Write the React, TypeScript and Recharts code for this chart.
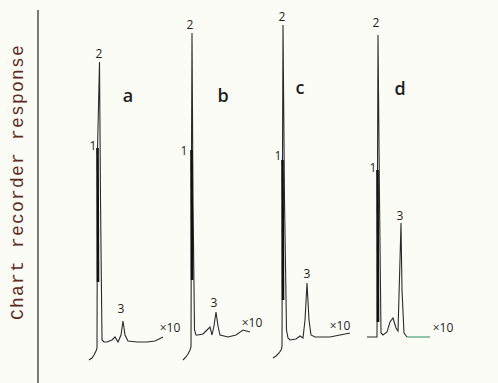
import { ComposedChart, Line, XAxis, YAxis, ReferenceDot } from "recharts"

type Pt = { x: number; y: number }

// chart-paper distance (x) vs recorder response (y)
const traceA: Pt[] = [
  { x: 51, y: 23 }, { x: 54, y: 25 }, { x: 56, y: 28 }, { x: 58, y: 32 }, { x: 59, y: 35 },
  { x: 59.5, y: 233 }, { x: 61.5, y: 321 }, { x: 62.5, y: 183 }, { x: 64, y: 43 },
  { x: 66, y: 41 }, { x: 69, y: 41 }, { x: 74, y: 43 }, { x: 77, y: 46 }, { x: 80, y: 41 },
  { x: 83, y: 48 }, { x: 85, y: 62 }, { x: 87, y: 48 }, { x: 90, y: 42 }, { x: 99, y: 41 },
  { x: 109, y: 41 }, { x: 117, y: 42 }, { x: 125, y: 46 },
]
const traceB: Pt[] = [
  { x: 145, y: 23 }, { x: 148, y: 26 }, { x: 150, y: 29 }, { x: 152, y: 33 }, { x: 153, y: 36 },
  { x: 153.5, y: 233 }, { x: 154, y: 350 }, { x: 155, y: 183 }, { x: 156.5, y: 53 },
  { x: 158, y: 48 }, { x: 160, y: 48 }, { x: 165, y: 49 }, { x: 169, y: 53 }, { x: 172, y: 56 },
  { x: 174, y: 48 }, { x: 176, y: 57 }, { x: 178, y: 71 }, { x: 180, y: 57 }, { x: 182, y: 48 },
  { x: 190, y: 46 }, { x: 198, y: 48 }, { x: 205, y: 53 }, { x: 212, y: 51 },
]
const traceC: Pt[] = [
  { x: 235, y: 25 }, { x: 238, y: 27 }, { x: 241, y: 30 }, { x: 243, y: 33 }, { x: 244, y: 36 },
  { x: 244.5, y: 223 }, { x: 245, y: 358 }, { x: 246.5, y: 183 }, { x: 248.5, y: 53 },
  { x: 250, y: 45 }, { x: 252, y: 43 }, { x: 258, y: 44 }, { x: 262, y: 47 }, { x: 265, y: 45 },
  { x: 267, y: 63 }, { x: 269, y: 100 }, { x: 271, y: 63 }, { x: 273, y: 48 }, { x: 277, y: 46 },
  { x: 292, y: 46 }, { x: 302, y: 48 }, { x: 312, y: 50 },
]
const traceD: Pt[] = [
  { x: 329, y: 46 }, { x: 339, y: 46 }, { x: 339.5, y: 213 }, { x: 340, y: 348 },
  { x: 341.5, y: 183 }, { x: 343, y: 50 }, { x: 345, y: 48 }, { x: 349, y: 51 }, { x: 352, y: 61 },
  { x: 355, y: 65 }, { x: 358, y: 55 }, { x: 360, y: 52 }, { x: 362, y: 123 },
  { x: 363, y: 160 }, { x: 364, y: 93 }, { x: 366, y: 50 }, { x: 369, y: 46 },
]
const traceDTail: Pt[] = [{ x: 369, y: 46 }, { x: 382, y: 46 }, { x: 392, y: 46 }]

// peak 1 shoulders (dark overlapping pen strokes)
const shoulderA: Pt[] = [{ x: 59.5, y: 235 }, { x: 60, y: 101 }]
const shoulderB: Pt[] = [{ x: 153.5, y: 233 }, { x: 154, y: 103 }]
const shoulderC: Pt[] = [{ x: 244.5, y: 223 }, { x: 245, y: 83 }]
const shoulderD: Pt[] = [{ x: 339.5, y: 213 }, { x: 340, y: 61 }]

const peakLabels = [
  { x: 61, y: 330, t: "2" }, { x: 152, y: 359, t: "2" }, { x: 244, y: 367, t: "2" }, { x: 338, y: 361, t: "2" },
  { x: 55, y: 238, t: "1" }, { x: 146, y: 233, t: "1" }, { x: 240, y: 228, t: "1" }, { x: 335, y: 216, t: "1" },
  { x: 83, y: 75, t: "3" }, { x: 176, y: 81, t: "3" }, { x: 269, y: 110, t: "3" }, { x: 362, y: 168, t: "3" },
]
const panelLetters = [
  { x: 90, y: 288, t: "a" }, { x: 185, y: 288, t: "b" }, { x: 262, y: 296, t: "c" }, { x: 362, y: 295, t: "d" },
]
const gainLabels = [
  { x: 132, y: 56, t: "×10" }, { x: 214, y: 61, t: "×10" }, { x: 302, y: 58, t: "×10" }, { x: 405, y: 56, t: "×10" },
]

const ink = "#2a2a2a"
const sans = "'Open Sans', 'DejaVu Sans', sans-serif"

function textShape(t: string, size: number, weight = 400) {
  return (p: any) => (
    <text x={p.cx} y={p.cy} textAnchor="middle" dominantBaseline="central"
      fontSize={size} fontWeight={weight} fontFamily={sans} fill="#1e1e1e">{t}</text>
  )
}

function YLabel(props: any) {
  const vb = props.viewBox
  const cx = 18
  const cy = vb.y + 172
  return (
    <text x={cx} y={cy} transform={`rotate(-90 ${cx} ${cy})`} textAnchor="middle"
      dominantBaseline="central" fontSize={18} letterSpacing={1.2}
      fontFamily="'Liberation Mono', 'DejaVu Sans Mono', monospace" fill="#5e2a22">
      Chart recorder response
    </text>
  )
}

export default function App() {
  const traces = [traceA, traceB, traceC, traceD]
  const shoulders = [shoulderA, shoulderB, shoulderC, shoulderD]
  return (
    <div style={{ position: "absolute", left: 0, top: 0, width: 498, height: 383, background: "#fcfcf6" }}>
      <ComposedChart width={498} height={383} margin={{ top: 10, right: 0, bottom: 0, left: 0 }}>
        <XAxis type="number" dataKey="x" domain={[0, 460]} hide allowDataOverflow />
        <YAxis type="number" domain={[0, 373]} width={38} tick={false} tickLine={false}
          axisLine={{ stroke: "#333", strokeWidth: 1.3 }} label={<YLabel />} allowDataOverflow />
        {traces.map((d, i) => (
          <Line key={"t" + i} data={d} dataKey="y" type="linear" stroke={ink} strokeWidth={1.1}
            dot={false} isAnimationActive={false} />
        ))}
        {shoulders.map((d, i) => (
          <Line key={"s" + i} data={d} dataKey="y" type="linear" stroke="#111" strokeWidth={2.6}
            dot={false} isAnimationActive={false} />
        ))}
        <Line data={traceDTail} dataKey="y" type="linear" stroke="#3c9a6a" strokeWidth={1.1}
          dot={false} isAnimationActive={false} />
        {peakLabels.map((l, i) => (
          <ReferenceDot key={"p" + i} x={l.x} y={l.y} r={0} shape={textShape(l.t, 12)} />
        ))}
        {panelLetters.map((l, i) => (
          <ReferenceDot key={"l" + i} x={l.x} y={l.y} r={0} shape={textShape(l.t, 18, 600)} />
        ))}
        {gainLabels.map((l, i) => (
          <ReferenceDot key={"g" + i} x={l.x} y={l.y} r={0} shape={textShape(l.t, 12)} />
        ))}
      </ComposedChart>
    </div>
  )
}
